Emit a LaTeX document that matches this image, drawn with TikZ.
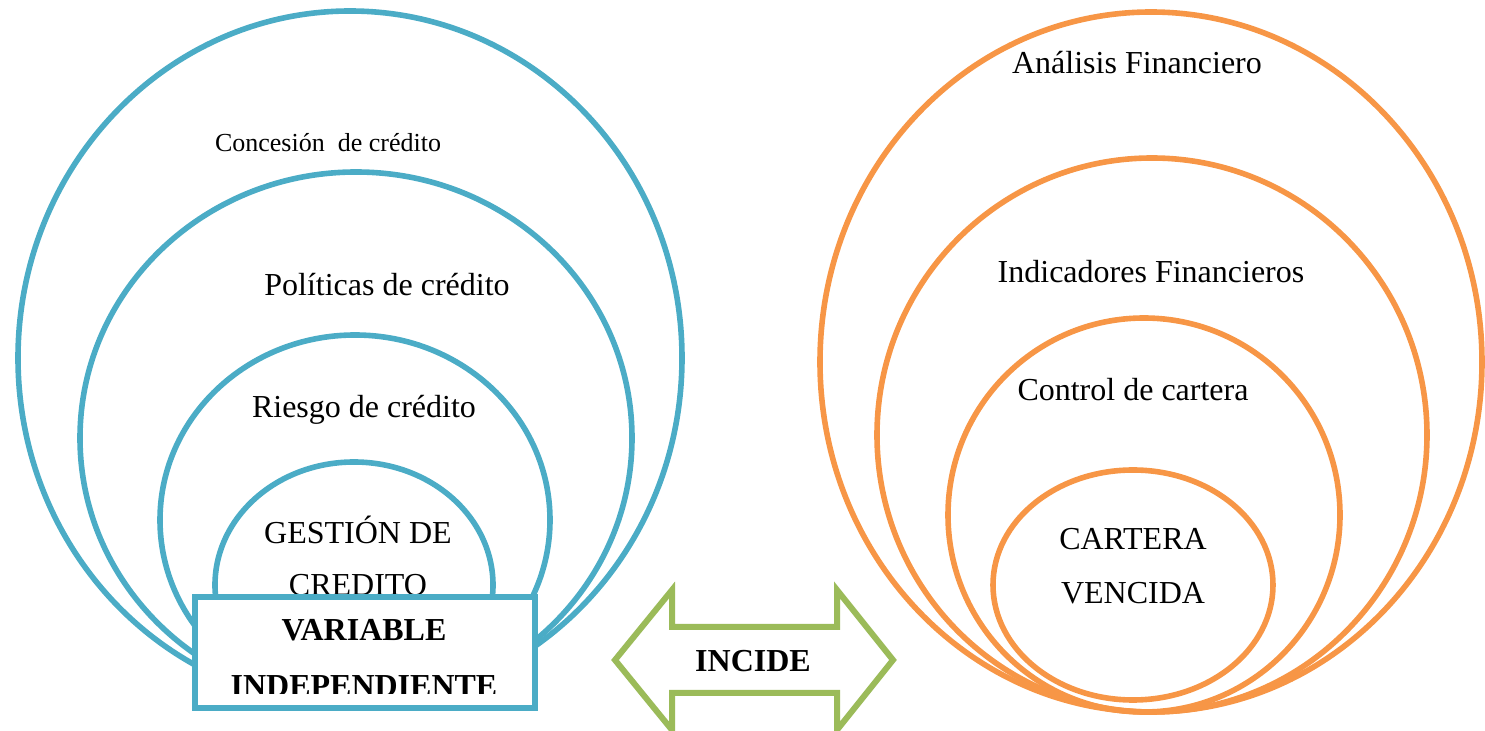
\documentclass[tikz,border=0pt]{standalone}
\usepackage{fontspec}
\setmainfont{Liberation Serif}
\definecolor{lblue}{HTML}{4BACC6}
\definecolor{lorange}{HTML}{F79646}
\definecolor{lgreen}{HTML}{9BBB59}
\begin{document}
\begin{tikzpicture}[x=0.5pt,y=-0.5pt,
  bring/.style={draw=lblue,line width=2.8pt},
  oring/.style={draw=lorange,line width=2.8pt},
  lbl/.style={inner sep=0pt,font=\fontsize{16}{19}\selectfont},
  blbl/.style={inner sep=0pt,font=\fontsize{16}{19}\selectfont\bfseries}]
\useasboundingbox (0,0) rectangle (1485,731);
% left circles
\draw[bring] (350,358) ellipse [x radius=166pt,y radius=173.5pt];
\draw[bring] (356,438) ellipse [x radius=138pt,y radius=133pt];
\draw[bring] (355,520) ellipse [x radius=97.5pt,y radius=92.5pt];
\draw[bring] (354,585) ellipse [x radius=69.5pt,y radius=61.5pt];
% right circles
\draw[oring] (1151,362) ellipse [x radius=165.5pt,y radius=175pt];
\draw[oring] (1152,435) ellipse [x radius=137.5pt,y radius=138.5pt];
\draw[oring] (1144,515) ellipse [x radius=98pt,y radius=98.5pt];
\draw[oring] (1133,585) ellipse [x radius=70pt,y radius=57.5pt];
% left labels
\node[lbl,font=\fontsize{13}{15}\selectfont] (conc) at (328,143) {Concesión\ \ de crédito};
\node[lbl] (pol) at (387,285) {Políticas de crédito};
\node[lbl] (rie) at (364,410) {Riesgo de crédito};
\node[lbl] (ges) at (358,530) {GESTIÓN DE};
\node[lbl] (cre) at (358,585) {CREDITO};
% box
\fill[white] (195,597) rectangle (535,708);
\begin{scope}
\clip (195,597) rectangle (535,694);
\node[blbl] (var) at (364,630) {VARIABLE};
\node[blbl] (ind) at (364,686) {INDEPENDIENTE};
\end{scope}
\node[draw=lblue,line width=2.9pt,inner sep=0pt,minimum width=170pt,minimum height=55.5pt] (box) at (365,652.5) {};
% right labels
\node[lbl] (ana) at (1137,63) {Análisis Financiero};
\node[lbl] (indf) at (1151,272) {Indicadores Financieros};
\node[lbl] (con) at (1133,390) {Control de cartera};
\node[lbl] (car) at (1133,539) {CARTERA};
\node[lbl] (ven) at (1133,593) {VENCIDA};
% double arrow
\draw[draw=lgreen,line width=3pt,miter limit=10]
  (615,660) -- (672,590) -- (672,627) -- (837,627) -- (837,590) -- (893,660)
  -- (837,730) -- (837,693) -- (672,693) -- (672,730) -- cycle;
\node[blbl] (inc) at (753,661) {INCIDE};
\end{tikzpicture}
\end{document}
